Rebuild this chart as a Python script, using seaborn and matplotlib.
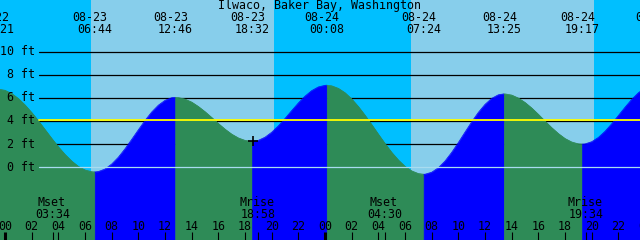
import numpy as np
import pandas as pd
import matplotlib
matplotlib.use('Agg')
import matplotlib.pyplot as plt
import seaborn as sns

# Tide heights (ft) every half hour, hours counted from 08-23 00:00
hours = [k / 2 for k in range(97)]
heights = [6.66, 6.38, 5.95, 5.39, 4.74, 4.02, 3.26, 2.50, 1.77, 1.11, 0.54, 0.08, -0.23, -0.38,
           -0.37, -0.15, 0.28, 0.87, 1.60, 2.41, 3.24, 4.05, 4.78, 5.37, 5.79, 6.02,
           6.03, 5.90, 5.64, 5.26, 4.81, 4.31, 3.79, 3.30, 2.87, 2.54, 2.33, 2.25,
           2.33, 2.60, 3.03, 3.58, 4.22, 4.90, 5.56, 6.15, 6.63, 6.95,
           7.09, 7.05, 6.83, 6.45, 5.91, 5.25, 4.50, 3.69, 2.86, 2.05, 1.29, 0.63, 0.08, -0.31,
           -0.54, -0.60, -0.43, -0.04, 0.54, 1.29, 2.14, 3.04, 3.93, 4.75, 5.44, 5.96, 6.27,
           6.35, 6.25, 5.99, 5.61, 5.13, 4.58, 4.00, 3.43, 2.92, 2.49, 2.19, 2.03,
           2.02, 2.21, 2.58, 3.11, 3.76, 4.47, 5.19, 5.87, 6.44, 6.88]

# highs / lows
ext_hours = [-0.65, 6.733, 12.767, 18.533, 24.133, 31.4, 37.417, 43.283, 48.9]
ext_heights = [6.8, -0.4, 6.05, 2.25, 7.1, -0.6, 6.35, 2.0, 7.2]
ext_dates = ['08-22', '08-23', '08-23', '08-23', '08-24', '08-24', '08-24', '08-24', '08-25']
ext_times = ['23:21', '06:44', '12:46', '18:32', '00:08', '07:24', '13:25', '19:17', '00:54']

# sunrise, sunset, sunrise, sunset
sun_hours = [6.45, 20.175, 30.45, 44.175]

moon_hours = [3.567, 18.967, 28.5, 43.567]
moon_names = ['Mset', 'Mrise', 'Mset', 'Mrise']
moon_times = ['03:34', '18:58', '04:30', '19:34']

grid_levels = [2, 4, 6, 8, 10]
label_levels = [0, 2, 4, 6, 8, 10]
level_labels = ['0 ft', '2 ft', '4 ft', '6 ft', '8 ft', '10 ft']
mean_level = 4.1
now_hour, now_height = 18.62, 2.27

title = 'Ilwaco, Baker Bay, Washington'

DAY = '#87CEEB'
NIGHT = '#00BFFF'
RISE = '#0000FF'
FALL = '#2E8B57'
FONT = 'DejaVu Sans Mono'
FS = 8.4

XMIN, XMAX = -0.375, 47.625
YMIN, YMAX = -6.29, 14.47
PX_FT = 11.56  # pixels per foot

sns.set_style('white')

# one group per rise / fall between two extremes
t_all = np.array(hours + ext_hours, dtype=float)
h_all = np.array(heights + ext_heights, dtype=float)
order = np.argsort(t_all)
t_all, h_all = t_all[order], h_all[order]

rows = []
for i in range(len(ext_hours) - 1):
    ta, tb = ext_hours[i], ext_hours[i + 1]
    m = (t_all >= ta) & (t_all <= tb)
    for t, h in zip(t_all[m], h_all[m]):
        rows.append({'hour': t, 'height': h, 'seg': i})
df = pd.DataFrame(rows)
seg_colors = {i: (RISE if ext_heights[i + 1] > ext_heights[i] else FALL)
              for i in range(len(ext_hours) - 1)}

fig = plt.figure(figsize=(6.4, 2.4), dpi=100)
ax = fig.add_axes([0, 0, 1, 1])

# day / night background
edges = [XMIN - 2] + sun_hours + [XMAX + 2]
for i in range(len(edges) - 1):
    ax.axvspan(edges[i], edges[i + 1], color=NIGHT if i % 2 == 0 else DAY, lw=0, zorder=0)

# grid lines (under the water)
x0 = 39 / 640
for lv in grid_levels:
    ax.axhline(lv, xmin=x0, xmax=1, color='black', lw=0.9, zorder=1)

# water
for seg, g in df.groupby('seg'):
    ax.fill_between(g['hour'], YMIN, g['height'], color=seg_colors[seg],
                    lw=0.5, edgecolor=seg_colors[seg], zorder=2)
sns.lineplot(data=df, x='hour', y='height', hue='seg', palette=seg_colors,
             estimator=None, sort=False, legend=False, lw=0.5, ax=ax, zorder=3)
ax.set_axis_off()
ax.set_xlim(XMIN, XMAX)
ax.set_ylim(YMIN, YMAX)

# datum and mean level lines over the water
ax.axhline(0, xmin=x0, xmax=1, color='#a8dcf0', lw=0.9, zorder=4)
ax.axhline(mean_level, xmin=x0, xmax=1, color='yellow', lw=1.3, zorder=4)

# current-time cross
ax.plot([now_hour], [now_height], marker='+', ms=7, mew=1.2, color='black', zorder=5)

txt = dict(family=FONT, fontsize=FS, color='black', zorder=6)

ytr = ax.get_yaxis_transform()
for lv, lab in zip(label_levels, level_labels):
    ax.text(35 / 640, lv - 3.4 / PX_FT, lab, transform=ytr, ha='right', va='baseline', **txt)

xtr = ax.get_xaxis_transform()
ax.text(0.5, 1 - 9.5 / 240, title, transform=ax.transAxes, ha='center', va='baseline', **txt)
for t, d, tm in zip(ext_hours, ext_dates, ext_times):
    ax.text(t - 0.34, 1 - 21.3 / 240, d, transform=xtr, ha='center', va='baseline', **txt)
    ax.text(t, 1 - 33.3 / 240, tm, transform=xtr, ha='center', va='baseline', **txt)

# moon events
for t, n, tm in zip(moon_hours, moon_names, moon_times):
    ax.text(t - 0.1, 1 - 206 / 240, n, transform=xtr, ha='center', va='baseline', **txt)
    ax.text(t, 1 - 217.5 / 240, tm, transform=xtr, ha='center', va='baseline', **txt)
ax.vlines(moon_hours, 0, 8 / 240, transform=xtr, color='black', lw=0.8, zorder=6)

# hour ticks
tick_hours = list(range(0, 50, 2))
for h in tick_hours:
    ax.text(h, 1 - 229.5 / 240, f'{h % 24:02d}', transform=xtr, ha='center', va='baseline', **txt)
    ax.vlines(h, 0, 8 / 240, transform=xtr, color='black',
              lw=2.2 if h % 24 == 0 else 0.8, zorder=6)

fig.savefig('out.png', dpi=100)
